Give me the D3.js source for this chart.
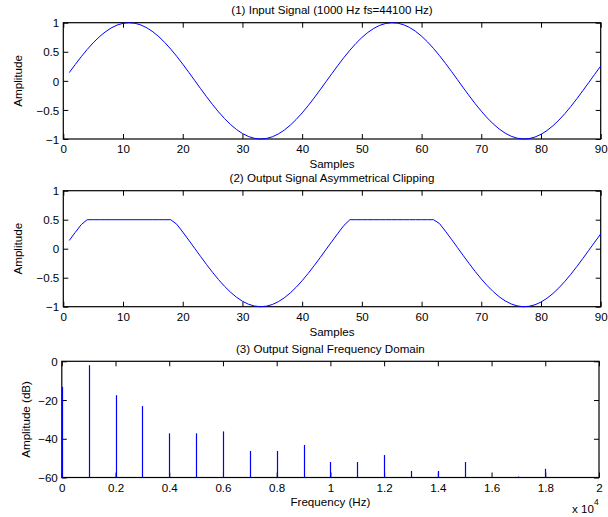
<!DOCTYPE html>
<html>
<head>
<meta charset="utf-8">
<script src="https://cdn.jsdelivr.net/npm/d3@7"></script>
<style>
  body { margin: 0; background: #fff; }
  svg { display: block; font-family: "Liberation Sans", Arial, sans-serif; }
  .tick text { font-size: 11.6px; fill: #000; }
</style>
</head>
<body>
<svg id="chart" width="608" height="517"></svg>
<script>
// Sample index of each point (1..90)
const sampleIdx = d3.range(1, 91);

// (1) 1000 Hz sine sampled at 44.1 kHz
const inputSignal = [
  0.1420, 0.2811, 0.4146, 0.5396, 0.6535, 0.7545, 0.8400, 0.9085, 0.9587, 0.9894,
  1.0000, 0.9904, 0.9607, 0.9115, 0.8439, 0.7594, 0.6591, 0.5455, 0.4211, 0.2879,
  0.1490, 0.0071, -0.1349, -0.2742, -0.4081, -0.5336, -0.6482, -0.7498, -0.8361, -0.9056,
  -0.9566, -0.9883, -0.9999, -0.9913, -0.9626, -0.9144, -0.8477, -0.7640, -0.6646, -0.5515,
  -0.4275, -0.2948, -0.1561, -0.0142, 0.1279, 0.2674, 0.4015, 0.5275, 0.6428, 0.7452,
  0.8322, 0.9025, 0.9545, 0.9872, 0.9998, 0.9922, 0.9645, 0.9172, 0.8514, 0.7684,
  0.6696, 0.5575, 0.4339, 0.3016, 0.1631, 0.0214, -0.1208, -0.2605, -0.3950, -0.5214,
  -0.6373, -0.7405, -0.8284, -0.8994, -0.9524, -0.9860, -0.9997, -0.9931, -0.9664, -0.9201,
  -0.8551, -0.7728, -0.6749, -0.5634, -0.4403, -0.3084, -0.1701, -0.0285, 0.1137, 0.2537
];

// (2) Same signal with the positive half limited to 0.5
const clippedSignal = [
  0.1420, 0.2811, 0.4146, 0.5000, 0.5000, 0.5000, 0.5000, 0.5000, 0.5000, 0.5000,
  0.5000, 0.5000, 0.5000, 0.5000, 0.5000, 0.5000, 0.5000, 0.5000, 0.4211, 0.2879,
  0.1490, 0.0071, -0.1349, -0.2742, -0.4081, -0.5336, -0.6482, -0.7498, -0.8361, -0.9056,
  -0.9566, -0.9883, -0.9999, -0.9913, -0.9626, -0.9144, -0.8477, -0.7640, -0.6646, -0.5515,
  -0.4275, -0.2948, -0.1561, -0.0142, 0.1279, 0.2674, 0.4015, 0.5000, 0.5000, 0.5000,
  0.5000, 0.5000, 0.5000, 0.5000, 0.5000, 0.5000, 0.5000, 0.5000, 0.5000, 0.5000,
  0.5000, 0.5000, 0.4339, 0.3016, 0.1631, 0.0214, -0.1208, -0.2605, -0.3950, -0.5214,
  -0.6373, -0.7405, -0.8284, -0.8994, -0.9524, -0.9860, -0.9997, -0.9931, -0.9664, -0.9201,
  -0.8551, -0.7728, -0.6749, -0.5634, -0.4403, -0.3084, -0.1701, -0.0285, 0.1137, 0.2537
];

// (3) Spectrum of the clipped signal: harmonic frequencies (Hz) and levels (dB)
const harmonicFreqs = [0, 1000, 2000, 3000, 4000, 5000, 6000, 7000, 8000, 9000,
  10000, 11000, 12000, 13000, 14000, 15000, 17000, 18000];
const harmonicDb = [-13.2, -2, -17.5, -23.1, -37.2, -37.2, -36.2, -46.3, -46.3, -43.2,
  -52, -52, -48.4, -56.6, -56.6, -52, -59.5, -55.5];

// Tick values and labels
const sampleTicks = [0, 10, 20, 30, 40, 50, 60, 70, 80, 90];
const ampTicks = [-1, -0.5, 0, 0.5, 1];
const ampTickLabels = ["\u22121", "\u22120.5", "0", "0.5", "1"];
const freqTicks = [0, 2000, 4000, 6000, 8000, 10000, 12000, 14000, 16000, 18000, 20000];
const freqTickLabels = ["0", "0.2", "0.4", "0.6", "0.8", "1", "1.2", "1.4", "1.6", "1.8", "2"];
const dbTicks = [-60, -40, -20, 0];
const dbTickLabels = ["\u221260", "\u221240", "\u221220", "0"];

const svg = d3.select("#chart");
const TICK = 5;
const BLUE = "#0000ff";
const FS = 11.6;

function panel(opt) {
  const g = svg.append("g");
  const x = d3.scaleLinear().domain(opt.xDomain).range([opt.left, opt.right]);
  const y = d3.scaleLinear().domain(opt.yDomain).range([opt.bottom, opt.top]);

  const label = (vals, labels) => d => labels[vals.indexOf(d)];

  // bottom axis with inward ticks and labels
  const bx = g.append("g").attr("transform", `translate(0,${opt.bottom})`)
    .call(d3.axisBottom(x).tickValues(opt.xTicks).tickFormat(label(opt.xTicks, opt.xLabels))
      .tickSizeInner(-TICK).tickSizeOuter(0).tickPadding(6));
  // top axis ticks only
  const tx = g.append("g").attr("transform", `translate(0,${opt.top})`)
    .call(d3.axisTop(x).tickValues(opt.xTicks).tickFormat("").tickSizeInner(-TICK).tickSizeOuter(0));
  // left axis with labels
  const ly = g.append("g").attr("transform", `translate(${opt.left},0)`)
    .call(d3.axisLeft(y).tickValues(opt.yTicks).tickFormat(label(opt.yTicks, opt.yLabels))
      .tickSizeInner(-TICK).tickSizeOuter(0).tickPadding(4));
  // right axis ticks only
  const ry = g.append("g").attr("transform", `translate(${opt.right},0)`)
    .call(d3.axisRight(y).tickValues(opt.yTicks).tickFormat("").tickSizeInner(-TICK).tickSizeOuter(0));

  [bx, tx, ly, ry].forEach(a => {
    a.select(".domain").remove();
    a.selectAll(".tick line").attr("stroke", "#000");
  });
  ly.selectAll(".tick text").attr("dy", "0.36em");

  // box
  g.append("rect")
    .attr("x", opt.left).attr("y", opt.top)
    .attr("width", opt.right - opt.left).attr("height", opt.bottom - opt.top)
    .attr("fill", "none").attr("stroke", "#000").attr("stroke-width", 1.2);

  // title and axis labels
  const cx = (opt.left + opt.right) / 2;
  g.append("text").attr("x", cx).attr("y", opt.titleY).attr("text-anchor", "middle")
    .attr("font-size", FS).text(opt.title);
  g.append("text").attr("x", cx).attr("y", opt.xLabelY).attr("text-anchor", "middle")
    .attr("font-size", FS).text(opt.xLabel);
  g.append("text")
    .attr("transform", `translate(${opt.yLabelX},${(opt.top + opt.bottom) / 2}) rotate(-90)`)
    .attr("text-anchor", "middle").attr("font-size", FS).text(opt.yLabel);

  return { g, x, y };
}

// Panel 1: input signal
const p1 = panel({
  left: 63.3, right: 600.7, top: 22.7, bottom: 139,
  xDomain: [0, 90], yDomain: [-1, 1],
  xTicks: sampleTicks, xLabels: sampleTicks.map(String),
  yTicks: ampTicks, yLabels: ampTickLabels,
  title: "(1) Input Signal (1000 Hz fs=44100 Hz)", titleY: 14,
  xLabel: "Samples", xLabelY: 167.5,
  yLabel: "Amplitude", yLabelX: 22
});
p1.g.append("path")
  .datum(sampleIdx.map((n, i) => [n, inputSignal[i]]))
  .attr("fill", "none").attr("stroke", BLUE).attr("stroke-width", 1)
  .attr("d", d3.line().x(d => p1.x(d[0])).y(d => p1.y(d[1])));

// Panel 2: clipped signal
const p2 = panel({
  left: 63.3, right: 600.7, top: 190.7, bottom: 306.7,
  xDomain: [0, 90], yDomain: [-1, 1],
  xTicks: sampleTicks, xLabels: sampleTicks.map(String),
  yTicks: ampTicks, yLabels: ampTickLabels,
  title: "(2) Output Signal Asymmetrical Clipping", titleY: 181.5,
  xLabel: "Samples", xLabelY: 335.5,
  yLabel: "Amplitude", yLabelX: 22
});
p2.g.append("path")
  .datum(sampleIdx.map((n, i) => [n, clippedSignal[i]]))
  .attr("fill", "none").attr("stroke", BLUE).attr("stroke-width", 1)
  .attr("d", d3.line().x(d => p2.x(d[0])).y(d => p2.y(d[1])));

// Panel 3: frequency domain
const p3 = panel({
  left: 61.8, right: 599, top: 361.3, bottom: 477.5,
  xDomain: [0, 20000], yDomain: [-60, 0],
  xTicks: freqTicks, xLabels: freqTickLabels,
  yTicks: dbTicks, yLabels: dbTickLabels,
  title: "(3) Output Signal Frequency Domain", titleY: 352.5,
  xLabel: "Frequency (Hz)", xLabelY: 505.5,
  yLabel: "Amplitude (dB)", yLabelX: 30
});
p3.g.selectAll("line.spike")
  .data(harmonicFreqs.map((f, i) => [f, harmonicDb[i]]))
  .join("line").attr("class", "spike")
  .attr("x1", d => Math.round(p3.x(d[0])) + 0.5).attr("x2", d => Math.round(p3.x(d[0])) + 0.5)
  .attr("y1", p3.y(-60)).attr("y2", d => p3.y(d[1]))
  .attr("stroke", BLUE).attr("stroke-width", 1.2);

// x 10^4 exponent for the frequency axis
const ex = p3.g.append("text").attr("x", 572).attr("y", 512.5).attr("font-size", FS);
ex.append("tspan").text("x 10");
ex.append("tspan").attr("dy", -8).attr("font-size", 8.5).text("4");
</script>
</body>
</html>
